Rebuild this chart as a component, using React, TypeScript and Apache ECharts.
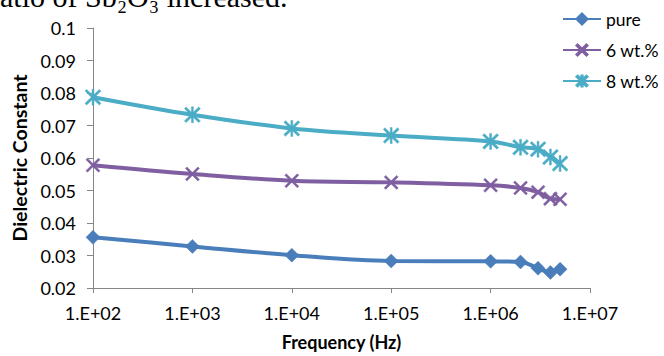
import React, { useEffect, useRef } from 'react';
import * as echarts from 'echarts';

const frequencies = [100, 1000, 10000, 100000, 1000000, 2000000, 3000000, 4000000, 5000000];
const pureValues = [0.0356, 0.0328, 0.0301, 0.0283, 0.0282, 0.028, 0.0261, 0.0248, 0.0258];
const wt6Values = [0.0578, 0.0551, 0.053, 0.0525, 0.0516, 0.0508, 0.0495, 0.0475, 0.0473];
const wt8Values = [0.0787, 0.0733, 0.0691, 0.0669, 0.0651, 0.0633, 0.0627, 0.0603, 0.0583];
const seriesNames = ['pure', '6 wt.%', '8 wt.%'];
const seriesColors = ['#4A7EBB', '#7F5FA1', '#4BACC6'];
const captionText = 'atio of Sb₂O₃ increased.';

const X_PATH =
  'path://M1.2,-1.2 L21.2,18.8 L18.8,21.2 L-1.2,1.2 Z M21.2,1.2 L1.2,21.2 L-1.2,18.8 L18.8,-1.2 Z';
const STAR_PATH =
  'path://M1.2,-1.2 L21.2,18.8 L18.8,21.2 L-1.2,1.2 Z M21.2,1.2 L1.2,21.2 L-1.2,18.8 L18.8,-1.2 Z M11.3,-1.5 L11.3,21.5 L8.7,21.5 L8.7,-1.5 Z';

const FONT = 'Lato, "Open Sans", sans-serif';

export default function App() {
  const ref = useRef<HTMLDivElement>(null);
  useEffect(() => {
    if (!ref.current) return;
    const chart = echarts.init(ref.current, undefined, { renderer: 'svg' });
    const valueSets = [pureValues, wt6Values, wt8Values];
    const symbols = ['diamond', X_PATH, STAR_PATH];
    const sizes = [14, 14, 16];
    chart.setOption({
      animation: false,
      backgroundColor: '#ffffff',
      grid: { left: 93, right: 74, top: 28, bottom: 62 },
      graphic: [
        {
          type: 'text',
          x: 0,
          y: -19,
          style: {
            text: captionText,
            fontFamily: '"Liberation Serif", "DejaVu Serif", serif',
            fontSize: 30,
            fill: '#000',
          },
        },
      ],
      legend: {
        data: seriesNames,
        orient: 'vertical',
        left: 557,
        top: 4,
        itemWidth: 38,
        itemHeight: 14,
        itemGap: 11,
        textStyle: { fontFamily: FONT, fontSize: 17.5, color: '#000', lineHeight: 20 },
      },
      xAxis: {
        type: 'log',
        logBase: 10,
        min: 100,
        max: 10000000,
        name: 'Frequency (Hz)',
        nameLocation: 'middle',
        nameGap: 45,
        nameTextStyle: { fontFamily: FONT, fontSize: 18, fontWeight: 'bold', color: '#000' },
        axisLine: { show: true, lineStyle: { color: '#868686', width: 1 } },
        axisTick: { show: true, length: 5, lineStyle: { color: '#868686' } },
        minorTick: { show: false },
        splitLine: { show: false },
        axisLabel: {
          margin: 16,
          fontFamily: FONT,
          fontSize: 18,
          color: '#000',
          formatter: (v: number) => {
            const e = Math.round(Math.log10(v));
            return '1.E+' + (e < 10 ? '0' + e : String(e));
          },
        },
      },
      yAxis: {
        type: 'value',
        min: 0.02,
        max: 0.1,
        interval: 0.01,
        name: 'Dielectric Constant',
        nameLocation: 'middle',
        nameRotate: 90,
        nameGap: 59,
        nameTextStyle: { fontFamily: FONT, fontSize: 19.5, fontWeight: 'bold', color: '#000' },
        axisLine: { show: true, lineStyle: { color: '#868686', width: 1 } },
        axisTick: { show: true, length: 6, lineStyle: { color: '#868686' } },
        splitLine: { show: false },
        axisLabel: {
          margin: 17,
          fontFamily: FONT,
          fontSize: 18,
          color: '#000',
          formatter: (v: number) => String(+v.toFixed(2)),
        },
      },
      series: seriesNames.map((name, i) => ({
        name,
        type: 'line',
        smooth: 0.35,
        symbol: symbols[i],
        symbolSize: sizes[i],
        data: frequencies.map((f, j) => [f, valueSets[i][j]]),
        lineStyle: { color: seriesColors[i], width: 4 },
        itemStyle: { color: seriesColors[i], borderColor: seriesColors[i], borderWidth: 0.5 },
        z: 2 + i,
      })),
    });
    return () => chart.dispose();
  }, []);
  return (
    <div
      ref={ref}
      style={{ position: 'fixed', left: 0, top: 0, width: 664, height: 356 }}
    />
  );
}
